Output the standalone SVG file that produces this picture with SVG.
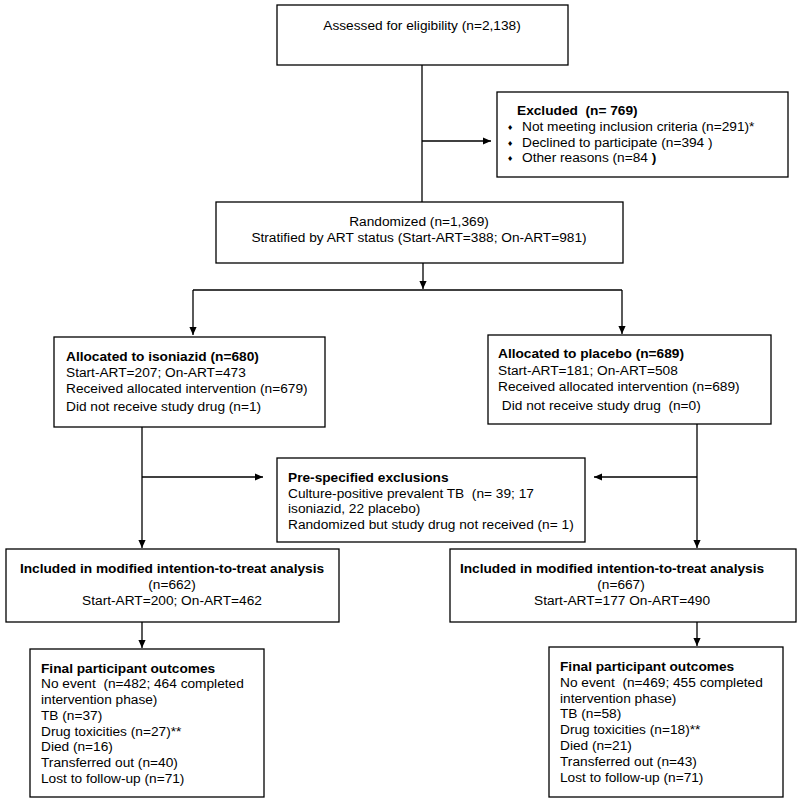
<svg xmlns="http://www.w3.org/2000/svg" width="800" height="802" viewBox="0 0 800 802">
<defs>
<style>
.box{fill:#fff;stroke:#000;stroke-width:1.3}
text{font-family:"Liberation Sans",Arial,sans-serif;font-size:13.7px;fill:#000;white-space:pre}
.b{font-weight:bold}
.m{text-anchor:middle}
.c{fill:none;stroke:#000;stroke-width:1.3}
.bul{font-family:"DejaVu Sans",sans-serif;font-size:7px}
</style>
<marker id="ah" viewBox="0 0 10 10" refX="10" refY="5" markerWidth="9" markerHeight="8" markerUnits="userSpaceOnUse" orient="auto">
<path d="M0,0.5 L10,5 L0,9.5 z" fill="#000"/>
</marker>
</defs>
<rect width="800" height="802" fill="#fff"/>
<g id="connectors">
<path class="c" d="M422,65 V202"/>
<path class="c" d="M422,141 H491" marker-end="url(#ah)"/>
<path class="c" d="M423,263 V289" marker-end="url(#ah)"/>
<path class="c" d="M193,290 H622"/>
<path class="c" d="M193,290 V335" marker-end="url(#ah)"/>
<path class="c" d="M622,290 V334" marker-end="url(#ah)"/>
<path class="c" d="M142,427 V548" marker-end="url(#ah)"/>
<path class="c" d="M697,424 V548" marker-end="url(#ah)"/>
<path class="c" d="M142,477 H263" marker-end="url(#ah)"/>
<path class="c" d="M697,477 H594" marker-end="url(#ah)"/>
<path class="c" d="M142,622 V648" marker-end="url(#ah)"/>
<path class="c" d="M697,622 V646" marker-end="url(#ah)"/>
</g>
<g id="assessed">
<rect class="box" x="277" y="5" width="291" height="60"/>
<text class="m" x="422" y="30">Assessed for eligibility (n=2,138)</text>
</g>
<g id="excluded">
<rect class="box" x="497" y="92" width="291" height="85"/>
<text class="b" x="517" y="115">Excluded  (n= 769)</text>
<text class="bul" x="507" y="130">♦</text>
<text class="bul" x="507" y="146">♦</text>
<text class="bul" x="507" y="161">♦</text>
<text x="522" y="131">Not meeting inclusion criteria (n=291)*</text>
<text x="522" y="147">Declined to participate (n=394 )</text>
<text x="522" y="162">Other reasons (n=84 <tspan class="b">)</tspan></text>
</g>
<g id="randomized">
<rect class="box" x="216" y="202" width="407" height="61"/>
<text class="m" x="419" y="226">Randomized (n=1,369)</text>
<text class="m" x="419" y="242">Stratified by ART status (Start-ART=388; On-ART=981)</text>
</g>
<g id="isoniazid">
<rect class="box" x="54" y="337" width="271" height="90"/>
<text class="b" x="66" y="361">Allocated to isoniazid (n=680)</text>
<text x="66" y="377">Start-ART=207; On-ART=473</text>
<text x="66" y="393">Received allocated intervention (n=679)</text>
<text x="66" y="411">Did not receive study drug (n=1)</text>
</g>
<g id="placebo">
<rect class="box" x="488" y="335" width="283" height="89"/>
<text class="b" x="498" y="358">Allocated to placebo (n=689)</text>
<text x="498" y="375">Start-ART=181; On-ART=508</text>
<text x="498" y="391">Received allocated intervention (n=689)</text>
<text x="498" y="410"> Did not receive study drug  (n=0)</text>
</g>
<g id="prespecified">
<rect class="box" x="277" y="458" width="308" height="84"/>
<text class="b" x="288" y="482">Pre-specified exclusions</text>
<text x="288" y="498">Culture-positive prevalent TB  (n= 39; 17</text>
<text x="288" y="513">isoniazid, 22 placebo)</text>
<text x="288" y="529">Randomized but study drug not received (n= 1)</text>
</g>
<g id="mitt-isoniazid">
<rect class="box" x="6" y="549" width="333" height="73"/>
<text class="m b" x="172" y="573">Included in modified intention-to-treat analysis</text>
<text class="m" x="172" y="589">(n=662)</text>
<text class="m" x="172" y="605">Start-ART=200; On-ART=462</text>
</g>
<g id="mitt-placebo">
<rect class="box" x="450" y="549" width="346" height="73"/>
<text class="m b" x="612" y="573">Included in modified intention-to-treat analysis</text>
<text class="m" x="621" y="589">(n=667)</text>
<text class="m" x="622" y="605">Start-ART=177 On-ART=490</text>
</g>
<g id="outcomes-isoniazid">
<rect class="box" x="30" y="649" width="234" height="148"/>
<text class="b" x="41" y="673">Final participant outcomes</text>
<text x="41" y="688">No event  (n=482; 464 completed</text>
<text x="41" y="704">intervention phase)</text>
<text x="41" y="720">TB (n=37)</text>
<text x="41" y="736">Drug toxicities (n=27)**</text>
<text x="41" y="751">Died (n=16)</text>
<text x="41" y="767">Transferred out (n=40)</text>
<text x="41" y="783">Lost to follow-up (n=71)</text>
</g>
<g id="outcomes-placebo">
<rect class="box" x="549" y="647" width="234" height="150"/>
<text class="b" x="560" y="671">Final participant outcomes</text>
<text x="560" y="687">No event  (n=469; 455 completed</text>
<text x="560" y="703">intervention phase)</text>
<text x="560" y="718">TB (n=58)</text>
<text x="560" y="734">Drug toxicities (n=18)**</text>
<text x="560" y="750">Died (n=21)</text>
<text x="560" y="766">Transferred out (n=43)</text>
<text x="560" y="782">Lost to follow-up (n=71)</text>
</g>
</svg>
